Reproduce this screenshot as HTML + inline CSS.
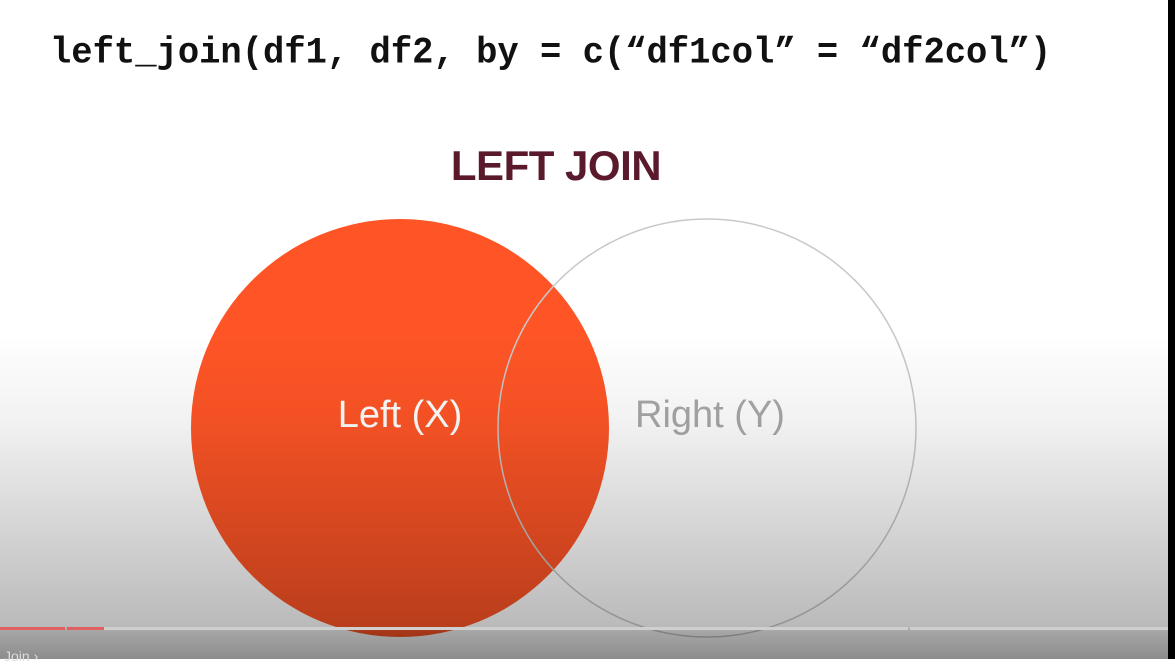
<!DOCTYPE html>
<html><head><style>
html,body{margin:0;padding:0;}
body{width:1175px;height:659px;position:relative;overflow:hidden;background:#fff;font-family:"Liberation Sans",sans-serif;}
.code{position:absolute;left:50px;top:32px;font-family:"Liberation Mono",monospace;font-weight:bold;font-size:35.5px;line-height:40px;color:#111;white-space:pre;transform:scaleY(1.05);transform-origin:0 0;}
.title{position:absolute;left:0;width:1112px;top:142px;text-align:center;font-weight:bold;font-size:42px;color:#5b1a2c;letter-spacing:-0.5px;}
.ov{position:absolute;left:0;top:0;width:1175px;height:659px;background:linear-gradient(to bottom,rgba(0,0,0,0) 0px,rgba(0,0,0,0) 330px,rgba(0,0,0,0.05) 420px,rgba(0,0,0,0.2) 560px,rgba(0,0,0,0.27) 626px,rgba(0,0,0,0.35) 631px,rgba(0,0,0,0.45) 659px);}
.bar{position:absolute;top:627px;height:3px;}
.black{position:absolute;left:1168px;top:0;width:7px;height:659px;background:#000;}
</style></head><body>
<div class="code">left_join(df1, df2, by = c(“df1col” = “df2col”)</div>
<div class="title">LEFT JOIN</div>
<svg width="1175" height="659" style="position:absolute;left:0;top:0">
<circle cx="400" cy="428" r="209" fill="#ff5526"/>
<circle cx="707" cy="428" r="209" fill="none" stroke="#c8c8c8" stroke-width="1.5"/>
<text x="400" y="427" text-anchor="middle" font-family="Liberation Sans, sans-serif" font-size="38" fill="#fff">Left (X)</text>
<text x="710" y="427" text-anchor="middle" font-family="Liberation Sans, sans-serif" font-size="38" fill="#a8a8a8">Right (Y)</text>
</svg>
<div class="ov"></div>
<div class="bar" style="left:0;width:65px;background:#e06060"></div>
<div class="bar" style="left:67px;width:37px;background:#e06060"></div>
<div class="bar" style="left:104px;width:804px;background:#cfcfcf"></div>
<div class="bar" style="left:910px;width:258px;background:#cfcfcf"></div>
<div style="position:absolute;left:4px;top:648px;font-size:14px;color:#ddd">Join ›</div>
<div class="black"></div>
</body></html>
